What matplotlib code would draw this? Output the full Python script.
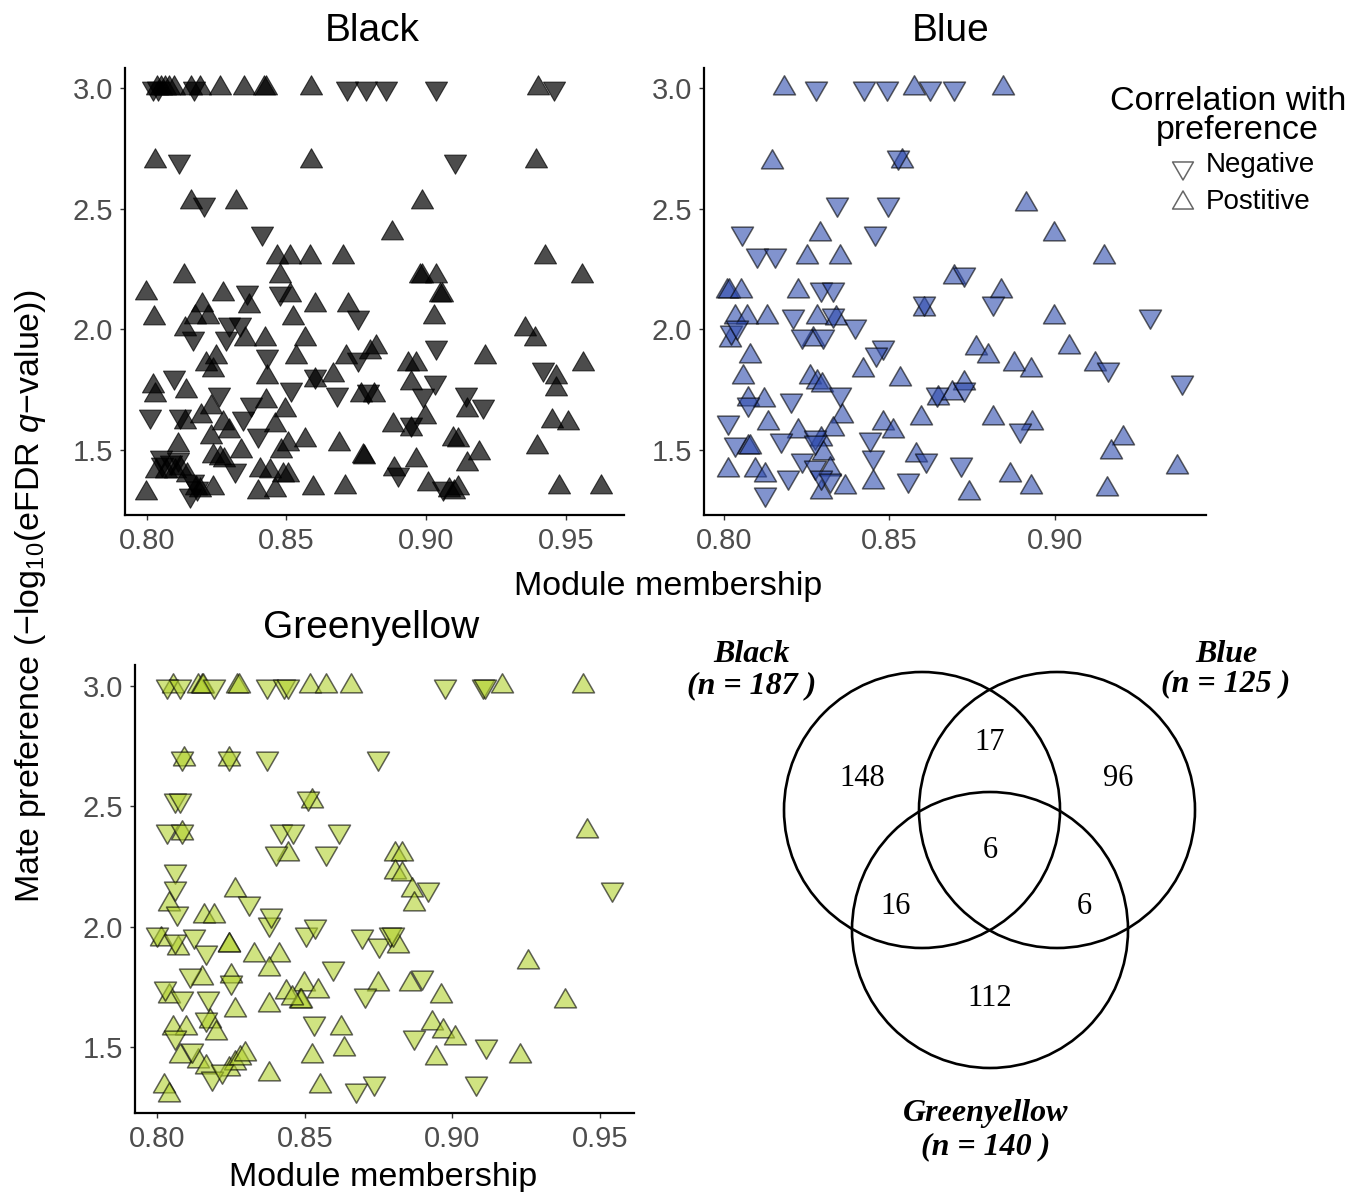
import numpy as np
import matplotlib
matplotlib.use("Agg")
import matplotlib.pyplot as plt
from matplotlib.patches import Circle
from matplotlib.path import Path

plt.rcParams["font.family"] = ["Liberation Sans", "DejaVu Sans"]
plt.rcParams["mathtext.fontset"] = "custom"
plt.rcParams["mathtext.rm"] = "Liberation Sans"
plt.rcParams["mathtext.it"] = "Liberation Sans:italic"
plt.rcParams["mathtext.default"] = "regular"

W, H = 1362, 1192

# ---- Black module ----
black_pos_x = [0.8035, 0.805, 0.8065, 0.808, 0.8098, 0.8158, 0.819, 0.8262, 0.8348, 0.8419, 0.8425, 0.8588, 0.9401,
               0.8029, 0.8588, 0.9394, 0.8157, 0.832, 0.8986, 0.8878,
               0.8466, 0.8511, 0.8583, 0.8703, 0.9427,
               0.8133, 0.8476, 0.8977, 0.8985, 0.9036, 0.9556,
               0.7997, 0.8272, 0.8511, 0.9049, 0.9055, 0.8366, 0.8601, 0.872, 0.8197,
               0.8025, 0.8171, 0.8219, 0.8523, 0.9028, 0.8135, 0.9354,
               0.835, 0.8422, 0.8565, 0.939,
               0.8249, 0.8535, 0.8714, 0.8798, 0.8822, 0.921, 0.956, 0.8213, 0.8237, 0.8935, 0.8965,
               0.843, 0.8601, 0.8667, 0.8022, 0.8028, 0.8141, 0.8768, 0.8815, 0.8944, 0.9465, 0.9465,
               0.823, 0.8428, 0.8494, 0.8995, 0.9147, 0.8135, 0.8195, 0.8272, 0.8296, 0.8458, 0.8882, 0.8944, 0.9449, 0.9509,
               0.823, 0.8111, 0.8565, 0.8688, 0.8505, 0.8481, 0.8338, 0.9097, 0.9115, 0.9395,
               0.8237, 0.8261, 0.8278, 0.8774, 0.8778, 0.8965, 0.9147, 0.919,
               0.8404, 0.844, 0.8505, 0.8487, 0.8033, 0.807, 0.810, 0.812, 0.8145, 0.8884,
               0.7997, 0.8237, 0.8398, 0.8458, 0.8595, 0.8709, 0.9007, 0.908, 0.910, 0.9115, 0.9477, 0.9626, 0.8175, 0.819]
black_pos_y = [3.0] * 13 + [
               2.70, 2.70, 2.70, 2.53, 2.53, 2.53, 2.40,
               2.30, 2.30, 2.30, 2.30, 2.30,
               2.22, 2.22, 2.22, 2.22, 2.22, 2.22,
               2.15, 2.145, 2.14, 2.14, 2.14, 2.095, 2.10, 2.10, 2.10,
               2.045, 2.05, 2.05, 2.045, 2.05, 2.00, 2.00,
               1.96, 1.96, 1.96, 1.96,
               1.885, 1.885, 1.885, 1.905, 1.925, 1.885, 1.855, 1.855, 1.83, 1.855, 1.855,
               1.80, 1.79, 1.81, 1.765, 1.725, 1.745, 1.725, 1.725, 1.775, 1.80, 1.75,
               1.675, 1.70, 1.665, 1.635, 1.665, 1.615, 1.64, 1.61, 1.575, 1.60, 1.60, 1.585, 1.62, 1.61,
               1.55, 1.52, 1.54, 1.525, 1.525, 1.495, 1.495, 1.545, 1.54, 1.51,
               1.475, 1.465, 1.455, 1.475, 1.47, 1.455, 1.44, 1.485,
               1.415, 1.41, 1.395, 1.395, 1.41, 1.41, 1.41, 1.425, 1.395, 1.42,
               1.32, 1.34, 1.325, 1.33, 1.34, 1.345, 1.355, 1.33, 1.325, 1.34, 1.345, 1.345, 1.34, 1.33]
black_neg_x = [0.8022, 0.804, 0.817, 0.8717, 0.8785, 0.8857, 0.9036, 0.9459,
               0.8115, 0.9104, 0.8204, 0.8412,
               0.8358, 0.8476, 0.8756, 0.8165, 0.8296, 0.8332, 0.8283, 0.843, 0.8756, 0.8099, 0.8601,
               0.8517, 0.8679, 0.801, 0.8258, 0.8118, 0.8374, 0.8344, 0.8398, 0.8314, 0.8051, 0.8055,
               0.8085, 0.811, 0.8165, 0.818, 0.8155, 0.9034, 0.9031, 0.879, 0.8989, 0.9144, 0.9204,
               0.9419, 0.8944, 0.890, 0.906]
black_neg_y = [3.0] * 8 + [
               2.70, 2.70, 2.52, 2.40,
               2.155, 2.15, 2.05, 1.965, 2.02, 2.02, 1.965, 1.89, 1.875, 1.80, 1.805,
               1.75, 1.73, 1.64, 1.73, 1.64, 1.69, 1.63, 1.56, 1.415, 1.47, 1.44,
               1.45, 1.46, 1.37, 1.34, 1.31, 1.925, 1.78, 1.745, 1.725, 1.73, 1.68,
               1.835, 1.605, 1.40, 1.34]

# ---- Blue module ----
blue_pos_x = [0.8182, 0.8576, 0.8845,
              0.8145, 0.8538, 0.8912, 0.8292, 0.8999, 0.825, 0.835, 0.9148, 0.8695,
              0.8011, 0.8015, 0.8053, 0.8224, 0.8839, 0.8604, 0.8033, 0.8069, 0.8129, 0.828, 0.834, 0.8998,
              0.8018, 0.827, 0.8079, 0.8761, 0.8797, 0.9043, 0.8421, 0.8532, 0.8877, 0.8927, 0.9123,
              0.8058, 0.826, 0.828, 0.8297, 0.8726, 0.8073, 0.8122, 0.8356, 0.8331, 0.8646, 0.8688,
              0.8597, 0.8481, 0.8512, 0.8812, 0.8932, 0.8134, 0.8224, 0.8295, 0.83, 0.8073, 0.8078,
              0.8582, 0.9205, 0.917, 0.937, 0.8013, 0.8094, 0.8124, 0.832, 0.8295, 0.8366, 0.8451,
              0.8864, 0.8927, 0.8741, 0.9159]
blue_pos_y = [3.0] * 3 + [
              2.695, 2.70, 2.52, 2.395, 2.395, 2.30, 2.30, 2.30, 2.217,
              2.16, 2.16, 2.16, 2.16, 2.16, 2.085, 2.05, 2.05, 2.05, 2.05, 2.045, 2.05,
              1.955, 1.96, 1.89, 1.92, 1.89, 1.925, 1.83, 1.795, 1.855, 1.83, 1.855,
              1.80, 1.80, 1.78, 1.77, 1.775, 1.71, 1.705, 1.64, 1.585, 1.712, 1.733,
              1.63, 1.61, 1.575, 1.63, 1.61, 1.61, 1.575, 1.545, 1.485, 1.51, 1.51,
              1.477, 1.546, 1.49, 1.428, 1.415, 1.415, 1.395, 1.42, 1.325, 1.345, 1.366,
              1.394, 1.345, 1.318, 1.336]
blue_neg_x = [0.8278, 0.8422, 0.8492, 0.8622, 0.8695,
              0.8527, 0.8341, 0.8495, 0.8055, 0.8457, 0.8099, 0.8154, 0.8727, 0.8295, 0.833,
              0.8604, 0.8814, 0.8209, 0.833, 0.8396, 0.9287, 0.8023, 0.804, 0.8235, 0.83,
              0.8481, 0.8461, 0.9161, 0.9383, 0.8726, 0.8073, 0.8204, 0.835, 0.8643, 0.8894,
              0.8013, 0.8174, 0.8033, 0.8275, 0.8275, 0.8441, 0.8612, 0.8716, 0.8235, 0.8275,
              0.8295, 0.832, 0.8451, 0.8557, 0.8194, 0.8124]
blue_neg_y = [3.0] * 5 + [
              2.715, 2.52, 2.52, 2.40, 2.40, 2.31, 2.31, 2.23, 2.165, 2.165,
              2.11, 2.11, 2.056, 2.06, 2.015, 2.056, 1.987, 2.01, 1.973, 1.973,
              1.925, 1.897, 1.835, 1.78, 1.752, 1.69, 1.704, 1.731, 1.731, 1.58,
              1.614, 1.538, 1.524, 1.55, 1.53, 1.545, 1.455, 1.441, 1.455, 1.428,
              1.386, 1.374, 1.469, 1.374, 1.386, 1.317]

# ---- Greenyellow module ----
green_pos_x = [0.8055, 0.8138, 0.8152, 0.8155, 0.8269, 0.8276, 0.8518, 0.8573, 0.8656, 0.9167, 0.9443,
               0.809, 0.8242, 0.8525, 0.8083, 0.9457, 0.8442, 0.8804, 0.8829, 0.8804, 0.8829,
               0.8863, 0.887, 0.8041, 0.8262, 0.8014, 0.8069, 0.8159, 0.8193, 0.8242, 0.8245,
               0.8329, 0.8414, 0.838, 0.8815, 0.9257, 0.8041, 0.8152, 0.8249, 0.8262, 0.838,
               0.8497, 0.8546, 0.8435, 0.8483, 0.8486, 0.8456, 0.8749, 0.8856, 0.896, 0.9381,
               0.8055, 0.8099, 0.818, 0.82, 0.8624, 0.8932, 0.8967, 0.9008, 0.9229, 0.8946,
               0.8633, 0.8525, 0.8076, 0.8138, 0.8166, 0.8242, 0.8262, 0.8279, 0.8297, 0.838,
               0.855, 0.8023, 0.8041]
green_pos_y = [3.0] * 11 + [
               2.695, 2.695, 2.52, 2.39, 2.395, 2.30, 2.30, 2.30, 2.227, 2.22,
               2.153, 2.095, 2.095, 2.153, 1.95, 1.91, 2.043, 2.043, 1.926, 1.926,
               1.882, 1.882, 1.823, 1.92, 1.852, 1.713, 1.786, 1.794, 1.654, 1.676,
               1.764, 1.735, 1.728, 1.691, 1.691, 1.706, 1.764, 1.764, 1.713, 1.691,
               1.58, 1.58, 1.61, 1.56, 1.58, 1.603, 1.566, 1.537, 1.464, 1.456,
               1.493, 1.464, 1.464, 1.442, 1.42, 1.412, 1.434, 1.456, 1.471, 1.39,
               1.339, 1.339, 1.302]
green_neg_x = [0.8035, 0.8076, 0.8193, 0.8373, 0.8428, 0.8442, 0.8974, 0.9105, 0.9112,
               0.8083, 0.8242, 0.8373, 0.8749, 0.8062, 0.8076, 0.8511, 0.8035, 0.8083, 0.8421,
               0.8459, 0.8615, 0.8403, 0.8573, 0.8062, 0.8062, 0.8066, 0.8916, 0.954, 0.8311,
               0.80, 0.8062, 0.8124, 0.8166, 0.838, 0.8387, 0.8504, 0.8536, 0.8693, 0.8753,
               0.8787, 0.8798, 0.8025, 0.8083, 0.811, 0.8173, 0.8251, 0.8597, 0.8704, 0.8898,
               0.8062, 0.8166, 0.8532, 0.887, 0.9115, 0.8117, 0.8186, 0.822, 0.8674, 0.8735, 0.908]
green_neg_y = [3.0] * 9 + [
               2.70, 2.70, 2.70, 2.70, 2.526, 2.526, 2.533, 2.396, 2.396, 2.396,
               2.396, 2.396, 2.306, 2.306, 2.232, 2.159, 2.056, 2.156, 2.156, 2.10,
               1.971, 1.939, 1.961, 1.894, 2.012, 2.048, 1.968, 2.005, 1.961, 1.924,
               1.968, 1.968, 1.748, 1.704, 1.799, 1.704, 1.77, 1.828, 1.718, 1.792,
               1.542, 1.616, 1.601, 1.542, 1.506, 1.491, 1.373, 1.403, 1.322, 1.351, 1.351]

# Venn counts
venn_counts = ["148", "17", "96", "6", "16", "6", "112"]
venn_names = ["Black", "Blue", "Greenyellow"]
venn_totals = [187, 125, 140]

# R-style triangles, centred on the centroid
UP = Path([(0, 1), (0.866, -0.5), (-0.866, -0.5), (0, 1)], closed=True)
DOWN = Path([(0, -1), (0.866, 0.5), (-0.866, 0.5), (0, -1)], closed=True)
MS = 335


def box(x0, y0, x1, y1):
    return [x0 / W, 1 - y1 / H, (x1 - x0) / W, (y1 - y0) / H]


fig = plt.figure(figsize=(W / 100, H / 100), dpi=100)

ov = fig.add_axes([0, 0, 1, 1])
ov.set_xlim(0, W)
ov.set_ylim(H, 0)
ov.axis("off")

panels = [
    ("Black", box(125, 68, 624, 515), (0.7922, 0.9708), [0.80, 0.85, 0.90, 0.95],
     black_pos_x, black_pos_y, black_neg_x, black_neg_y,
     dict(facecolor="black", edgecolor="black", alpha=0.7, linewidths=0.8)),
    ("Blue", box(704, 68, 1206, 515), (0.794, 0.9457), [0.80, 0.85, 0.90],
     blue_pos_x, blue_pos_y, blue_neg_x, blue_neg_y,
     dict(facecolor="#2E4BAE", edgecolor="black", alpha=0.6, linewidths=1.1)),
    ("Greenyellow", box(135, 665, 634, 1113), (0.7925, 0.9615), [0.80, 0.85, 0.90, 0.95],
     green_pos_x, green_pos_y, green_neg_x, green_neg_y,
     dict(facecolor="#B2D12E", edgecolor="black", alpha=0.6, linewidths=1.1)),
]

for name, rect, xlim, xt, px, py, nx, ny, style in panels:
    ax = fig.add_axes(rect)
    ax.scatter(px, py, marker=UP, s=MS, **style)
    ax.scatter(nx, ny, marker=DOWN, s=MS, **style)
    ax.set_xlim(*xlim)
    ax.set_ylim(1.228, 3.085)
    ax.set_xticks(xt)
    ax.set_xticklabels([f"{t:.2f}" for t in xt])
    ax.set_yticks([1.5, 2.0, 2.5, 3.0])
    ax.set_yticklabels(["1.5", "2.0", "2.5", "3.0"])
    for s in ("top", "right"):
        ax.spines[s].set_visible(False)
    for s in ("left", "bottom"):
        ax.spines[s].set_linewidth(1.6)
    ax.tick_params(length=3.6, width=1, color="#333333", labelcolor="#4D4D4D",
                   labelsize=21, pad=5)
    ax.set_facecolor("none")

# titles and axis labels
ov.text(372, 41, "Black", fontsize=28, ha="center", va="baseline")
ov.text(951, 41, "Blue", fontsize=28, ha="center", va="baseline")
ov.text(371, 638, "Greenyellow", fontsize=28, ha="center", va="baseline")
ov.text(668, 595, "Module membership", fontsize=24.5, ha="center", va="baseline")
ov.text(383, 1186, "Module membership", fontsize=24.5, ha="center", va="baseline")
ov.text(31, 596, "Mate preference (\u2212log$_{10}$(eFDR $\\mathit{q}$\u2212value))",
        fontsize=24.5, rotation=90, ha="center", va="center")

# legend
ov.text(1228, 110, "Correlation with", fontsize=24.5, ha="center", va="baseline")
ov.text(1237, 139, "preference", fontsize=24.5, ha="center", va="baseline")
ov.scatter([1183], [168], marker=DOWN, s=300, facecolor="none", edgecolor="#666666", linewidths=1.1)
ov.scatter([1183], [203], marker=UP, s=300, facecolor="none", edgecolor="#666666", linewidths=1.1)
ov.text(1206, 165, "Negative", fontsize=20, ha="left", va="center")
ov.text(1206, 202, "Postitive", fontsize=20, ha="left", va="center")

# Venn diagram
for cx, cy in [(922, 810), (1057, 810), (990, 930)]:
    ov.add_patch(Circle((cx, cy), 138, facecolor="none", edgecolor="black", linewidth=1.9))

count_pos = [(862, 778), (990, 743), (1118, 778), (990, 851), (896, 906), (1084, 906), (990, 999)]
for (x, y), c in zip(count_pos, venn_counts):
    ov.text(x, y, c, fontsize=22, ha="center", va="center", family="Liberation Serif")

label_pos = [(752, 654, 686), (1226, 654, 684), (986, 1113, 1147)]
for (x, y1, y2), nm, n in zip(label_pos, venn_names, venn_totals):
    ov.text(x, y1, nm, fontsize=23, ha="center", va="center", family="Liberation Serif",
            fontweight="bold", style="italic")
    ov.text(x, y2, f"(n = {n} )", fontsize=23, ha="center", va="center", family="Liberation Serif",
            fontweight="bold", style="italic")

fig.savefig("out.png", dpi=100)
